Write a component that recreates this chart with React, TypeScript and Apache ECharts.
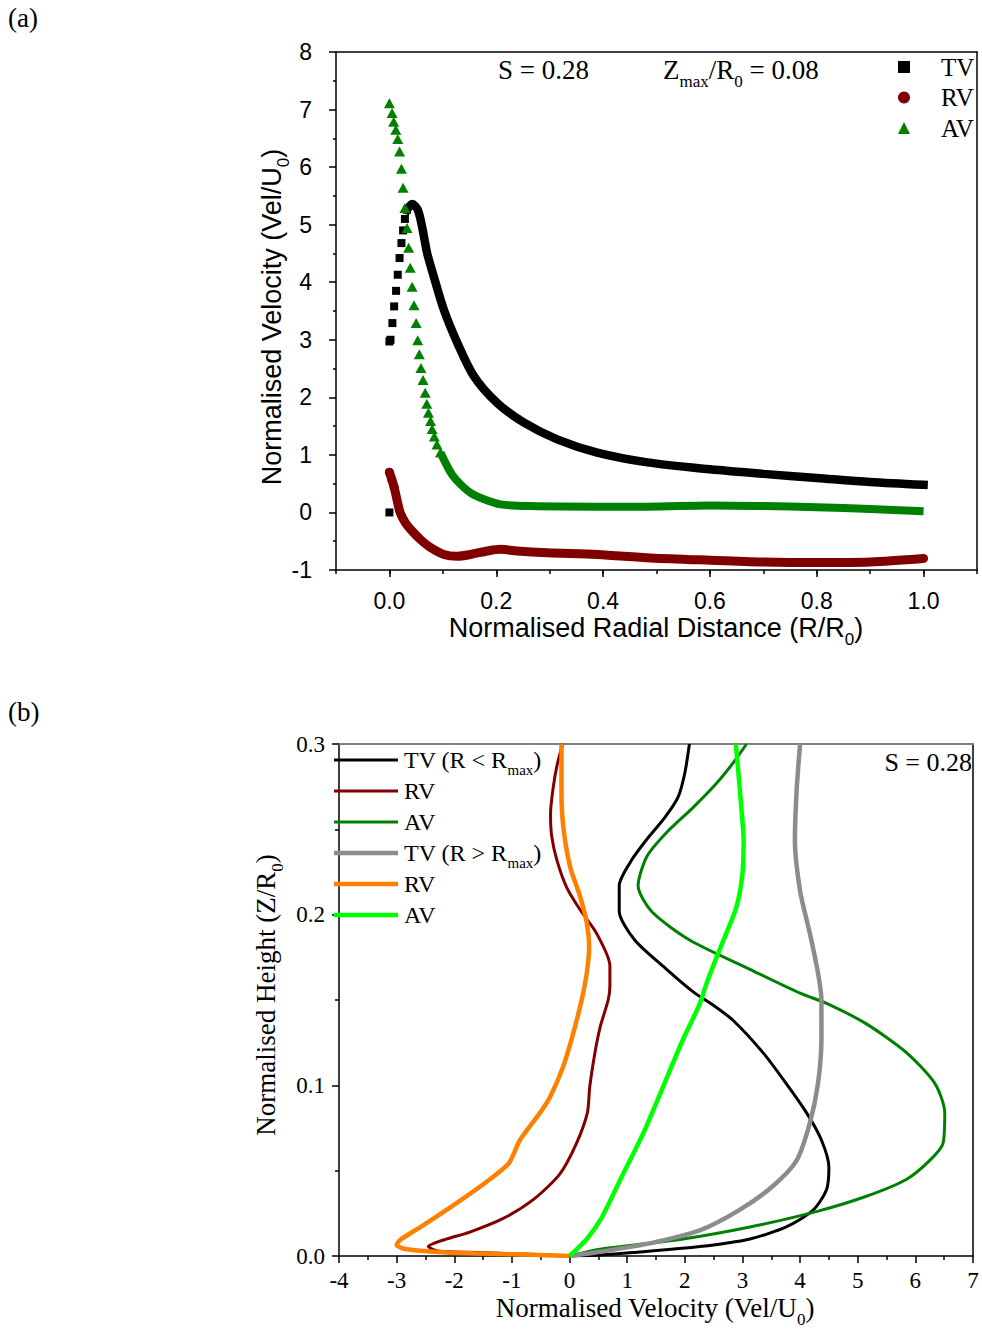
import React, { useEffect, useRef } from 'react';
import * as echarts from 'echarts';

const SANS = '"Liberation Sans", Arial, Helvetica, sans-serif';
const SERIF = '"Liberation Serif", "Times New Roman", Times, serif';

// ---------- Panel (a): radial profiles ----------
const xTickLabelsA = [0, 0.2, 0.4, 0.6, 0.8, 1.0];

// TV: separate markers on the rising side, dense band afterwards
const tvPoints: [number, number][] = [
  [0, 0], [0, 2.97], [0.002, 3.0], [0.0056, 3.29], [0.0088, 3.58], [0.0125, 3.85],
  [0.0156, 4.13], [0.019, 4.42], [0.0225, 4.68], [0.0256, 4.9], [0.029, 5.1], [0.033, 5.26],
];
const tvBand: [number, number][] = [
  [0.033, 5.26], [0.0425, 5.36], [0.053, 5.26], [0.061, 4.97], [0.0705, 4.51], [0.083, 4.1],
  [0.102, 3.52], [0.127, 2.95], [0.158, 2.37], [0.202, 1.9], [0.252, 1.56], [0.314, 1.27],
  [0.389, 1.04], [0.483, 0.87], [0.6, 0.75], [0.7, 0.67], [0.8, 0.6], [0.9, 0.53], [1.0, 0.48],
];

const rvPoints: [number, number][] = [[0, 0.7], [0.0045, 0.57], [0.009, 0.43]];
const rvBand: [number, number][] = [
  [0, 0.7], [0.0045, 0.57], [0.009, 0.43], [0.014, 0.23], [0.02, 0.0], [0.03, -0.18],
  [0.042, -0.32], [0.058, -0.47], [0.077, -0.61], [0.102, -0.73], [0.127, -0.76],
  [0.152, -0.73], [0.183, -0.67], [0.208, -0.64], [0.239, -0.67], [0.296, -0.7],
  [0.389, -0.73], [0.489, -0.79], [0.6, -0.83], [0.7, -0.86], [0.8, -0.87], [0.9, -0.86], [1.0, -0.8],
];

const avPoints: [number, number][] = [
  [0, 7.11], [0.005, 6.94], [0.008, 6.79], [0.012, 6.65], [0.0156, 6.49], [0.019, 6.27],
  [0.0225, 5.97], [0.0256, 5.64], [0.029, 5.29], [0.033, 4.94], [0.036, 4.6], [0.039, 4.25],
  [0.0425, 3.92], [0.046, 3.6], [0.05, 3.29], [0.053, 2.99], [0.056, 2.75], [0.059, 2.51],
  [0.063, 2.3], [0.067, 2.08], [0.07, 1.89], [0.073, 1.73], [0.077, 1.59], [0.08, 1.45],
  [0.084, 1.32], [0.089, 1.18], [0.0955, 1.04],
];
const avBand: [number, number][] = [
  [0.0955, 1.04], [0.105, 0.86], [0.117, 0.66], [0.133, 0.49], [0.152, 0.34], [0.177, 0.23],
  [0.208, 0.14], [0.264, 0.11], [0.389, 0.1], [0.483, 0.1], [0.6, 0.12], [0.7, 0.11],
  [0.8, 0.09], [0.9, 0.06], [1.0, 0.02],
];

// ---------- Panel (b): vertical profiles [velocity, height] ----------
const tvInner: [number, number][] = [
  [0, 0], [0.53, 0.0006], [1.1, 0.002], [2.26, 0.0055], [3.13, 0.01], [3.76, 0.017], [4.23, 0.027],
  [4.46, 0.039], [4.5, 0.052], [4.37, 0.068], [4.11, 0.084], [3.76, 0.101], [3.36, 0.119],
  [2.84, 0.138], [2.45, 0.148], [2.175, 0.154], [1.684, 0.168], [1.134, 0.185], [0.862, 0.202],
  [0.862, 0.217], [1.077, 0.232], [1.337, 0.244], [1.655, 0.257], [1.885, 0.269], [2.0, 0.283], [2.08, 0.3],
];
const rvInner: [number, number][] = [
  [0, 0], [-0.69, 0.001], [-1.55, 0.002], [-2.28, 0.003], [-2.45, 0.0055], [-2.13, 0.01],
  [-1.73, 0.014], [-1.15, 0.022], [-0.63, 0.033], [-0.17, 0.048], [0.12, 0.066], [0.31, 0.084],
  [0.35, 0.099], [0.44, 0.119], [0.53, 0.134], [0.67, 0.15], [0.7, 0.158], [0.7, 0.17],
  [0.47, 0.189], [0.18, 0.203], [-0.05, 0.216], [-0.22, 0.232], [-0.31, 0.246], [-0.33, 0.259],
  [-0.29, 0.273], [-0.22, 0.287], [-0.12, 0.3],
];
const avInner: [number, number][] = [
  [0, 0], [0.53, 0.0039], [1.97, 0.01], [3.13, 0.017], [4.28, 0.026], [5.15, 0.035], [5.85, 0.045],
  [6.25, 0.056], [6.48, 0.066], [6.51, 0.084], [6.34, 0.101], [5.85, 0.119], [5.15, 0.136],
  [4.46, 0.148], [4.0, 0.154], [3.13, 0.168], [2.09, 0.185], [1.42, 0.202], [1.19, 0.217],
  [1.34, 0.234], [1.68, 0.248], [2.15, 0.263], [2.55, 0.277], [2.84, 0.289], [3.07, 0.3],
];
const tvOuter: [number, number][] = [
  [0, 0], [0.53, 0.0025], [1.39, 0.0074], [2.26, 0.015], [2.95, 0.027], [3.53, 0.041], [3.94, 0.056],
  [4.17, 0.078], [4.31, 0.101], [4.37, 0.127], [4.37, 0.15], [4.31, 0.166], [4.17, 0.189],
  [4.0, 0.214], [3.91, 0.244], [3.94, 0.273], [4.0, 0.3],
];
const rvOuter: [number, number][] = [
  [0, 0], [-0.98, 0.001], [-2.13, 0.002], [-2.82, 0.0039], [-3.0, 0.0064], [-2.94, 0.0094],
  [-2.54, 0.018], [-1.96, 0.031], [-1.38, 0.045], [-1.06, 0.054], [-0.98, 0.059], [-0.86, 0.068],
  [-0.51, 0.084], [-0.34, 0.093], [-0.11, 0.111], [0.06, 0.13], [0.21, 0.15], [0.3, 0.166],
  [0.34, 0.181], [0.3, 0.195], [0.18, 0.211], [0.01, 0.228], [-0.11, 0.252], [-0.14, 0.273], [-0.14, 0.3],
];
const avOuter: [number, number][] = [
  [0, 0], [0.3, 0.01], [0.55, 0.022], [0.87, 0.044], [1.28, 0.072], [1.62, 0.099], [1.97, 0.127],
  [2.25, 0.147], [2.38, 0.16], [2.55, 0.175], [2.72, 0.189], [2.9, 0.205], [3.0, 0.224],
  [3.02, 0.244], [2.98, 0.263], [2.93, 0.283], [2.885, 0.3],
];

const legendB = [
  { key: 'TV1', parts: ['TV (R < R', 'max', ')'], color: '#000000', width: 3 },
  { key: 'RV1', parts: ['RV'], color: '#800000', width: 3 },
  { key: 'AV1', parts: ['AV'], color: '#008000', width: 3 },
  { key: 'TV2', parts: ['TV (R > R', 'max', ')'], color: '#8c8c8c', width: 4.5 },
  { key: 'RV2', parts: ['RV'], color: '#ff8000', width: 4.5 },
  { key: 'AV2', parts: ['AV'], color: '#00ff00', width: 4.5 },
];
const seriesB = [tvInner, rvInner, avInner, tvOuter, rvOuter, avOuter];

function rich(family: string, fs: number) {
  const sfs = Math.round(fs * 0.62);
  const pad = Math.round(fs * 0.85);
  return {
    n: { fontFamily: family, fontSize: fs, lineHeight: fs + 4, fill: '#000', color: '#000' },
    s: { fontFamily: family, fontSize: sfs, lineHeight: sfs, padding: [pad, 0, 0, 0], fill: '#000', color: '#000' },
  };
}
function richStr(parts: string[]) {
  return parts.map((p, i) => (i % 2 === 0 ? `{n|${p}}` : `{s|${p}}`)).join('');
}

function textEl(x: number, y: number, parts: string[], family: string, fs: number, align = 'left', rotation = 0) {
  return {
    type: 'text',
    x,
    y,
    rotation,
    z: 100,
    style: {
      text: richStr(parts),
      rich: rich(family, fs),
      align,
      verticalAlign: 'middle',
      fontFamily: family,
      fontSize: fs,
      fill: '#000',
    },
  };
}

const black = { color: '#000', width: 1.5 };

function buildOption() {
  const labelA = { fontFamily: SANS, fontSize: 23, color: '#000' };
  const labelB = { fontFamily: SERIF, fontSize: 23, color: '#000' };

  const graphics: any[] = [
    textEl(8, 18, ['(a)'], SERIF, 27),
    textEl(8, 712, ['(b)'], SERIF, 27),
    textEl(498, 70, ['S = 0.28'], SERIF, 27),
    textEl(663, 70, ['Z', 'max', '/R', '0', ' = 0.08'], SERIF, 27),
    textEl(972, 762, ['S = 0.28'], SERIF, 26, 'right'),
    textEl(656, 628, ['Normalised Radial Distance (R/R', '0', ')'], SANS, 27, 'center'),
    textEl(272, 317, ['Normalised Velocity (Vel/U', '0', ')'], SANS, 27, 'center', Math.PI / 2),
    textEl(655, 1308, ['Normalised Velocity (Vel/U', '0', ')'], SERIF, 27, 'center'),
    textEl(266, 995, ['Normalised Height (Z/R', '0', ')'], SERIF, 27, 'center', Math.PI / 2),
  ];
  legendB.forEach((item, i) => {
    const y = 760 + i * 31;
    graphics.push({
      type: 'line',
      z: 100,
      shape: { x1: 334, y1: y, x2: 398, y2: y },
      style: { stroke: item.color, lineWidth: item.width },
    });
    graphics.push(textEl(404, y, item.parts, SERIF, 24));
  });

  return {
    animation: false,
    backgroundColor: '#ffffff',
    grid: [
      { left: 336, top: 52, width: 641, height: 518, outerBoundsMode: 'none', containLabel: false },
      { left: 339, top: 744, width: 634, height: 512, outerBoundsMode: 'none', containLabel: false },
    ],
    legend: {
      data: [
        { name: 'TV', icon: 'rect' },
        { name: 'RV', icon: 'circle' },
        { name: 'AV', icon: 'triangle' },
      ],
      orient: 'vertical',
      left: 893,
      top: 49.5,
      itemWidth: 12,
      itemHeight: 12,
      itemGap: 5.5,
      selectedMode: false,
      textStyle: { fontFamily: SERIF, fontSize: 25, lineHeight: 25, color: '#000', padding: [0, 0, 0, 26] },
    },
    xAxis: [
      {
        type: 'value', gridIndex: 0, min: -0.1, max: 1.1, interval: 0.1, position: 'bottom',
        axisLine: { show: true, onZero: false, lineStyle: black },
        axisTick: { show: true, length: 4, lineStyle: black },
        axisLabel: { show: false }, splitLine: { show: false },
      },
      {
        type: 'value', gridIndex: 0, min: -0.1, max: 1.1, position: 'bottom',
        axisLine: { show: false, onZero: false },
        axisTick: { show: true, length: 7, customValues: xTickLabelsA, lineStyle: black },
        axisLabel: { ...labelA, margin: 19, customValues: xTickLabelsA, formatter: (v: number) => v.toFixed(1) },
        splitLine: { show: false },
      },
      {
        type: 'value', gridIndex: 0, min: -0.1, max: 1.1, position: 'top',
        axisLine: { show: true, onZero: false, lineStyle: black },
        axisTick: { show: false }, axisLabel: { show: false }, splitLine: { show: false },
      },
      {
        type: 'value', gridIndex: 1, min: -4, max: 7, interval: 1, position: 'bottom',
        axisLine: { show: true, onZero: false, lineStyle: black },
        axisTick: { show: true, length: 7, lineStyle: black },
        minorTick: { show: true, splitNumber: 2, length: 4, lineStyle: black },
        axisLabel: { ...labelB, margin: 13 },
        splitLine: { show: false }, minorSplitLine: { show: false },
      },
      {
        type: 'value', gridIndex: 1, min: -4, max: 7, position: 'top',
        axisLine: { show: true, onZero: false, lineStyle: { color: '#808080', width: 2 } },
        axisTick: { show: false }, axisLabel: { show: false }, splitLine: { show: false },
      },
    ],
    yAxis: [
      {
        type: 'value', gridIndex: 0, min: -1, max: 8, interval: 1, position: 'left',
        axisLine: { show: true, onZero: false, lineStyle: black },
        axisTick: { show: true, length: 7, lineStyle: black },
        minorTick: { show: true, splitNumber: 2, length: 3, lineStyle: black },
        axisLabel: { ...labelA, margin: 24 },
        splitLine: { show: false }, minorSplitLine: { show: false },
      },
      {
        type: 'value', gridIndex: 0, min: -1, max: 8, position: 'right',
        axisLine: { show: true, onZero: false, lineStyle: black },
        axisTick: { show: false }, axisLabel: { show: false }, splitLine: { show: false },
      },
      {
        type: 'value', gridIndex: 1, min: 0, max: 0.3, interval: 0.1, position: 'left',
        axisLine: { show: true, onZero: false, lineStyle: black },
        axisTick: { show: true, length: 7, lineStyle: black },
        minorTick: { show: true, splitNumber: 2, length: 4, lineStyle: black },
        axisLabel: { ...labelB, margin: 14, formatter: (v: number) => v.toFixed(1) },
        splitLine: { show: false }, minorSplitLine: { show: false },
      },
      {
        type: 'value', gridIndex: 1, min: 0, max: 0.3, position: 'right',
        axisLine: { show: true, onZero: false, lineStyle: black },
        axisTick: { show: false }, axisLabel: { show: false }, splitLine: { show: false },
      },
    ],
    graphic: { elements: graphics },
    series: [
      {
        name: 'TV band', type: 'line', xAxisIndex: 0, yAxisIndex: 0, data: tvBand, symbol: 'none',
        smooth: 0.3, lineStyle: { color: '#000', width: 8.5, cap: 'square' }, z: 2,
      },
      {
        name: 'RV band', type: 'line', xAxisIndex: 0, yAxisIndex: 0, data: rvBand, symbol: 'none',
        smooth: 0.3, lineStyle: { color: '#800000', width: 9, cap: 'round' }, z: 2,
      },
      {
        name: 'AV band', type: 'line', xAxisIndex: 0, yAxisIndex: 0, data: avBand, symbol: 'none',
        smooth: 0.3, lineStyle: { color: '#008000', width: 8, cap: 'butt' }, z: 2,
      },
      {
        name: 'TV', type: 'scatter', xAxisIndex: 0, yAxisIndex: 0, data: tvPoints, symbol: 'rect',
        symbolSize: 8, itemStyle: { color: '#000', opacity: 1 }, z: 3,
      },
      {
        name: 'RV', type: 'scatter', xAxisIndex: 0, yAxisIndex: 0, data: rvPoints, symbol: 'circle',
        symbolSize: 9, itemStyle: { color: '#800000', opacity: 1 }, z: 3,
      },
      {
        name: 'AV', type: 'scatter', xAxisIndex: 0, yAxisIndex: 0, data: avPoints, symbol: 'triangle',
        symbolSize: [11, 10], itemStyle: { color: '#008000', opacity: 1 }, z: 3,
      },
      ...legendB.map((item, i) => ({
        name: item.key,
        type: 'line',
        xAxisIndex: 3,
        yAxisIndex: 2,
        data: seriesB[i],
        symbol: 'none',
        smooth: 0.25,
        lineStyle: { color: item.color, width: item.width },
        z: 2 + i * 0.01,
      })),
    ],
  };
}

export default function App() {
  const ref = useRef<HTMLDivElement>(null);
  useEffect(() => {
    if (!ref.current) return;
    const chart = echarts.init(ref.current, null, { renderer: 'svg' });
    chart.setOption(buildOption() as any);
    return () => chart.dispose();
  }, []);
  return (
    <div
      ref={ref}
      style={{ position: 'absolute', left: 0, top: 0, width: 982, height: 1330, background: '#fff' }}
    />
  );
}
